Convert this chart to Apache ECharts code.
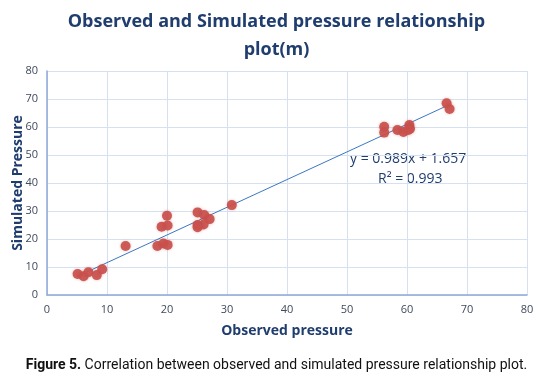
<!DOCTYPE html>
<html>
<head>
<meta charset="utf-8">
<script src="https://cdn.jsdelivr.net/npm/echarts@6/dist/echarts.min.js"></script>
<style>
html,body{margin:0;padding:0;background:#fff;}
#c{width:553px;height:392px;}
</style>
</head>
<body>
<div id="c"></div>
<script>
var observed = [5.1, 6.1, 6.9, 8.3, 9.2, 13.1, 18.4, 19.4, 20.1, 19.1, 20.1, 20.0, 25.1, 26.2, 27.1, 26.1, 25.1, 25.1, 30.8, 56.2, 56.2, 58.4, 59.4, 60.4, 60.5, 60.2, 66.6, 67.1];
var simulated = [7.5, 6.7, 8.1, 7.1, 9.2, 17.5, 17.5, 18.4, 17.9, 24.4, 24.8, 28.3, 29.5, 28.6, 27.1, 25.2, 25.0, 24.2, 32.1, 60.1, 58.0, 58.9, 58.2, 60.7, 59.4, 58.9, 68.5, 66.4];
var slope = 0.989, intercept = 1.657, r2 = 0.993;
var trendRange = [5.0, 66.8];
var xTicks = [0, 10, 20, 30, 40, 50, 60, 70, 80];
var yTicks = [0, 10, 20, 30, 40, 50, 60, 70, 80];

var pts = observed.map(function(x, i){ return [x, simulated[i]]; });
var trend = trendRange.map(function(x){ return [x, slope * x + intercept]; });

var navy = '#1f3d6e';
var tickColor = '#404a5c';
var chart = echarts.init(document.getElementById('c'));
chart.setOption({
  animation: false,
  backgroundColor: '#fff',
  title: {
    text: 'Observed and Simulated pressure relationship\nplot(m)',
    left: 'center', top: 3,
    textStyle: { fontFamily: 'Open Sans', fontWeight: 'bold', fontSize: 18, color: navy, lineHeight: 28 }
  },
  grid: { left: 47, right: 26, top: 71, bottom: 97, containLabel: false, outerBoundsMode: 'none' },
  xAxis: {
    type: 'value', min: xTicks[0], max: xTicks[xTicks.length-1], interval: 10,
    name: 'Observed pressure', nameLocation: 'middle', nameGap: 29,
    nameTextStyle: { fontFamily: 'Open Sans', fontWeight: 'bold', fontSize: 14, color: navy },
    axisLine: { show: true, lineStyle: { color: '#8fa9d8', width: 1.5 } },
    axisTick: { show: false },
    axisLabel: { fontFamily: 'Open Sans', fontSize: 11, color: tickColor, margin: 9 },
    splitLine: { show: true, lineStyle: { color: '#d5e0f1', width: 1 } }
  },
  yAxis: {
    type: 'value', min: yTicks[0], max: yTicks[yTicks.length-1], interval: 10,
    name: 'Simulated Pressure', nameLocation: 'middle', nameGap: 22, nameRotate: 90, nameMoveOverlap: false,
    nameTextStyle: { fontFamily: 'Open Sans', fontWeight: 'bold', fontSize: 14, color: navy },
    axisLine: { show: true, lineStyle: { color: '#8fa9d8', width: 1.5 } },
    axisTick: { show: false },
    axisLabel: { fontFamily: 'Open Sans', fontSize: 11, color: tickColor, margin: 9 },
    splitLine: { show: true, lineStyle: { color: '#d5e0f1', width: 1 } }
  },
  series: [
    {
      type: 'line', data: trend, showSymbol: false, symbol: 'none',
      lineStyle: { color: '#3a78c4', width: 1 }, z: 3, silent: true
    },
    {
      type: 'scatter', data: pts, symbol: 'circle', symbolSize: 10,
      itemStyle: { color: '#c9504c', opacity: 0.92, shadowColor: 'rgba(190,60,60,0.35)', shadowBlur: 3 },
      z: 4
    }
  ],
  graphic: [
    { type: 'text', left: 350, top: 152, style: { text: 'y = 0.989x + 1.657', fontFamily: 'Open Sans', fontSize: 14, fill: navy } },
    { type: 'text', left: 378, top: 172, style: { text: 'R² = 0.993', fontFamily: 'Open Sans', fontSize: 14, fill: navy } },
    { type: 'text', left: 'center', top: 358, style: {
        text: '{b|Figure 5.} Correlation between observed and simulated pressure relationship plot.',
        fontFamily: 'Roboto', fontSize: 14, fill: '#111',
        rich: { b: { fontFamily: 'Roboto', fontSize: 14, fontWeight: 'bold', fill: '#111' } }
      } }
  ]
});
</script>
</body>
</html>
